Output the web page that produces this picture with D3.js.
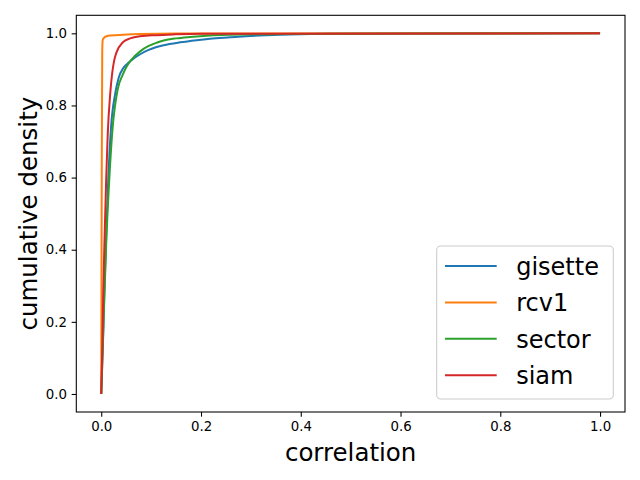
<!DOCTYPE html>
<html>
<head>
<meta charset="utf-8">
<script src="https://cdn.jsdelivr.net/npm/d3@7"></script>
<style>
  body { margin: 0; background: #fff; }
  text { font-family: "DejaVu Sans", sans-serif; }
</style>
</head>
<body>
<div id="chart"></div>
<script>
// cumulative density of correlation
const names = ["gisette", "rcv1", "sector", "siam"];
const colors = ["#1f77b4", "#ff7f0e", "#2ca02c", "#d62728"];

const gisetteX = [0, 0.003, 0.006, 0.010, 0.014, 0.0197, 0.028, 0.035, 0.044, 0.051, 0.060, 0.078, 0.095, 0.111, 0.125, 0.158, 0.191, 0.218, 0.258, 0.29, 0.358, 0.45, 0.6, 1.0];
const gisetteY = [0, 0.13, 0.27, 0.44, 0.593, 0.741, 0.833, 0.877, 0.903, 0.914, 0.925, 0.942, 0.954, 0.962, 0.967, 0.975, 0.981, 0.985, 0.989, 0.992, 0.996, 0.9985, 0.9998, 1.0];

const rcv1X = [0, 0.001, 0.002, 0.003, 0.005, 0.011, 0.02, 0.044, 0.078, 0.15, 1.0];
const rcv1Y = [0, 0.6, 0.95, 0.982, 0.987, 0.992, 0.994, 0.996, 0.998, 0.9995, 1.0];

const sectorX = [0, 0.003, 0.006, 0.010, 0.016, 0.023, 0.033, 0.043, 0.051, 0.060, 0.078, 0.095, 0.111, 0.125, 0.15, 0.178, 0.218, 0.258, 0.36, 0.5, 1.0];
const sectorY = [0, 0.12, 0.26, 0.42, 0.593, 0.741, 0.845, 0.885, 0.908, 0.926, 0.950, 0.965, 0.974, 0.980, 0.986, 0.990, 0.994, 0.996, 0.998, 0.999, 1.0];

const siamX = [0, 0.002, 0.004, 0.007, 0.010, 0.013, 0.018, 0.022, 0.026, 0.030, 0.044, 0.058, 0.078, 0.11, 0.144, 0.2, 1.0];
const siamY = [0, 0.12, 0.28, 0.45, 0.60, 0.72, 0.833, 0.89, 0.925, 0.945, 0.976, 0.986, 0.992, 0.995, 0.997, 0.999, 1.0];

const seriesX = [gisetteX, rcv1X, sectorX, siamX];
const seriesY = [gisetteY, rcv1Y, sectorY, siamY];

const xTicks = [0, 0.2, 0.4, 0.6, 0.8, 1.0];
const yTicks = [0, 0.2, 0.4, 0.6, 0.8, 1.0];

const width = 640, height = 480;
const margin = { top: 15.3, right: 15, bottom: 68, left: 76.3 };
const innerWidth = width - margin.left - margin.right;
const innerHeight = height - margin.top - margin.bottom;

const svg = d3.select("#chart")
  .append("svg")
  .attr("width", width)
  .attr("height", height);

const g = svg.append("g")
  .attr("transform", `translate(${margin.left}, ${margin.top})`);

const xScale = d3.scaleLinear()
  .domain([-0.05, 1.05])
  .range([0, innerWidth]);

const yScale = d3.scaleLinear()
  .domain([-0.05, 1.05])
  .range([innerHeight, 0]);

const line = d3.line()
  .x(d => xScale(d[0]))
  .y(d => yScale(d[1]))
  .curve(d3.curveMonotoneX);

names.forEach((name, i) => {
  const pts = seriesX[i].map((x, j) => [x, seriesY[i][j]]);
  g.append("path")
    .datum(pts)
    .attr("fill", "none")
    .attr("stroke", colors[i])
    .attr("stroke-width", 2)
    .attr("d", line);
});

// axes
const xAxis = g.append("g")
  .attr("transform", `translate(0, ${innerHeight})`)
  .call(d3.axisBottom(xScale).tickValues(xTicks).tickFormat(d3.format(".1f"))
    .tickSizeInner(4.67).tickSizeOuter(0).tickPadding(4.67));

const yAxis = g.append("g")
  .call(d3.axisLeft(yScale).tickValues(yTicks).tickFormat(d3.format(".1f"))
    .tickSizeInner(4.67).tickSizeOuter(0).tickPadding(4.67));

[xAxis, yAxis].forEach(ax => {
  ax.select(".domain").remove();
  ax.selectAll(".tick line").attr("stroke", "#000").attr("stroke-width", 1.07);
  ax.selectAll(".tick text")
    .attr("fill", "#000")
    .style("font-family", "DejaVu Sans")
    .style("font-size", "13.33px");
});

// frame
g.append("rect")
  .attr("x", 0)
  .attr("y", 0)
  .attr("width", innerWidth)
  .attr("height", innerHeight)
  .attr("fill", "none")
  .attr("stroke", "#000")
  .attr("stroke-width", 1.07);

// axis labels
svg.append("text")
  .attr("x", margin.left + innerWidth / 2)
  .attr("y", 461)
  .attr("text-anchor", "middle")
  .style("font-size", "24.5px")
  .text("correlation");

svg.append("text")
  .attr("transform", `translate(37, ${margin.top + innerHeight / 2}) rotate(-90)`)
  .attr("text-anchor", "middle")
  .style("font-size", "24.5px")
  .text("cumulative density");

// legend
const legend = svg.append("g")
  .attr("transform", "translate(436.7, 246)");

legend.append("rect")
  .attr("x", 0)
  .attr("y", 0)
  .attr("width", 176.6)
  .attr("height", 153)
  .attr("rx", 4)
  .attr("fill", "#fff")
  .attr("fill-opacity", 0.8)
  .attr("stroke", "#ccc")
  .attr("stroke-width", 1.07);

const legendItem = legend.selectAll(".legend-item")
  .data(names)
  .enter()
  .append("g")
  .attr("class", "legend-item")
  .attr("transform", (d, i) => `translate(0, ${20 + i * 36.4})`);

legendItem.append("line")
  .attr("x1", 8.3)
  .attr("x2", 60)
  .attr("y1", 0)
  .attr("y2", 0)
  .attr("stroke", (d, i) => colors[i])
  .attr("stroke-width", 2);

legendItem.append("text")
  .attr("x", 79.5)
  .attr("y", 8.7)
  .style("font-size", "24px")
  .text(d => d);
</script>
</body>
</html>
